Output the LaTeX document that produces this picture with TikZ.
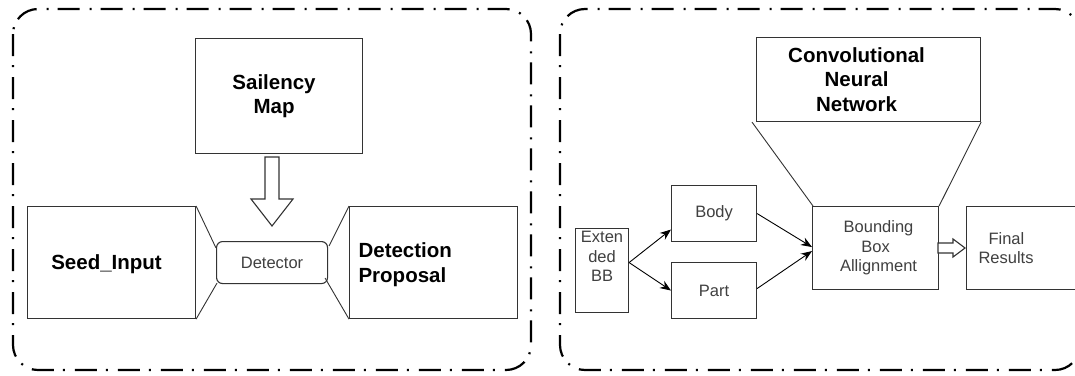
\documentclass[tikz,border=0pt]{standalone}
\usepackage{fontspec}
\setmainfont{Liberation Sans}
\usetikzlibrary{arrows.meta,calc}
\definecolor{boxline}{HTML}{333333}
\definecolor{txtgray}{HTML}{404040}
\tikzset{
  outerbox/.style={draw=black, line width=2.2pt, rounded corners=25pt, dash pattern=on 22pt off 9pt on 2pt off 10pt},
  blk/.style={draw=boxline, line width=1.1pt, inner sep=0pt, anchor=north west, align=center},
  boldtxt/.style={font=\bfseries\fontsize{20.5}{24.5}\selectfont, text=black},
  regtxt/.style={font=\fontsize{16.5}{19.5}\selectfont, text=txtgray},
  thinline/.style={draw=boxline, line width=0.9pt},
  arr/.style={draw=black, line width=0.9pt, -{Stealth[length=11pt,width=8.5pt]}},
  hollow/.style={draw=boxline, line width=1.1pt, fill=white, line join=miter}
}
\begin{document}
\begin{tikzpicture}[x=1pt,y=-1pt]
\useasboundingbox (0,0) rectangle (1075,375);
\clip (0,0) rectangle (1075,375);
\fill[white] (0,0) rectangle (1075,375);
% outer frames
\draw[outerbox] (13,9) rectangle (531,370);
\draw[outerbox] (560,9) rectangle (1080,370);

% ---- left panel ----
\node[blk, boldtxt, minimum width=167pt, minimum height=115pt] (sal) at (195,38) {\hspace*{-10pt}Sailency\\\hspace*{-10pt}Map};
\node[blk, boldtxt, minimum width=168pt, minimum height=112pt, text depth=0pt] (seed) at (27,206) {\hspace*{-10pt}Seed\_Input};
\node[blk, regtxt, minimum width=111pt, minimum height=42pt, rounded corners=6pt] (det) at (216,241) {Detector};
\node[blk, boldtxt, minimum width=168pt, minimum height=112pt, text width=150pt, align=left, inner xsep=9pt, text depth=24pt] (prop) at (349,206) {Detection\\Proposal};

\draw[thinline] (seed.north east) -- ($(det.north west)+(0,7)$);
\draw[thinline] (seed.south east) -- ($(det.south west)+(1,-1)$);
\draw[thinline] (prop.north west) -- ($(det.north east)+(1,5)$);
\draw[thinline] (prop.south west) -- ($(det.south east)+(-3,-6)$);

% hollow down arrow
\draw[hollow] (265,157) -- (279,157) -- (279,199) -- (293,199) -- (272,226) -- (251,199) -- (265,199) -- cycle;

% ---- right panel ----
\node[blk, boldtxt, minimum width=224pt, minimum height=84pt, text depth=0pt] (cnn) at (756,37) {\hspace*{-24pt}Convolutional\\\hspace*{-24pt}Neural\\\hspace*{-24pt}Network};
\node[blk, regtxt, minimum width=53pt, minimum height=84pt, text depth=28pt] (ext) at (575,228) {Exten\\ded\\BB};
\node[blk, regtxt, minimum width=85pt, minimum height=56pt] (body) at (671,185) {Body};
\node[blk, regtxt, minimum width=85pt, minimum height=56pt] (part) at (671,262) {Part};
\node[blk, regtxt, minimum width=126pt, minimum height=83pt] (bba) at (812,206) {\hspace*{6pt}Bounding\\Box\\\hspace*{6pt}Allignment};
\node[blk, regtxt, minimum width=130pt, minimum height=83pt, text width=110pt, align=left, inner xsep=10pt] (fin) at (966,206) {\hspace*{12pt}Final\\\hspace*{2pt}Results};

\draw[thinline] ($(cnn.south west)+(-4,0)$) -- ($(bba.north west)+(1,0)$);
\draw[thinline] (cnn.south east) -- (bba.north east);

\draw[arr] ($(ext.east)+(0,-8)$) -- ($(body.west)+(0,16)$);
\draw[arr] ($(ext.east)+(0,-8)$) -- ($(part.west)+(0,0)$);
\draw[arr] ($(body.east)+(0,0)$) -- ($(bba.west)+(0,-1)$);
\draw[arr] ($(part.east)+(0,-2)$) -- ($(bba.west)+(0,3)$);

% hollow right arrow
\draw[hollow] (938,243) -- (953,243) -- (953,239) -- (965,248) -- (953,257) -- (953,253) -- (938,253) -- cycle;
\end{tikzpicture}
\end{document}
